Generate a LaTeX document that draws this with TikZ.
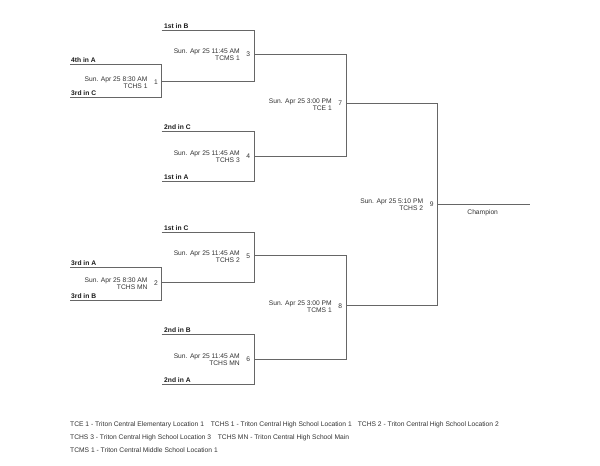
\documentclass[tikz,border=0pt]{standalone}
\usepackage{fontspec}
\setmainfont{Liberation Sans}
\begin{document}
\begin{tikzpicture}[x=1pt,y=-1pt,
  wire/.style={draw=black!60,line width=0.8pt},
  info/.style={anchor=east,align=right,inner sep=0pt,text=black!80,font=\fontsize{6.7}{7}\selectfont},
  num/.style={inner sep=0pt,text=black!80,font=\fontsize{6.7}{7}\selectfont},
  team/.style={anchor=base west,inner sep=0pt,text=black!90,font=\fontsize{6.7}{8}\selectfont\bfseries},
  leg/.style={anchor=west,inner sep=0pt,text=black!80,font=\fontsize{6.7}{8}\selectfont}]
\useasboundingbox (0,0) rectangle (600,466);
% coordinates
\coordinate (m1t) at (70,64.3);  \coordinate (m1tr) at (161.7,64.3);
\coordinate (m1b) at (70,97.7);  \coordinate (m1br) at (161.7,97.7);
\coordinate (m1o) at (161.7,81.7);
\coordinate (m3t) at (161.7,30.7); \coordinate (m3tr) at (254,30.7);
\coordinate (m3br) at (254,81.7);
\coordinate (m3o) at (254,54);
\coordinate (m4t) at (161.7,131); \coordinate (m4tr) at (254,131);
\coordinate (m4b) at (161.7,181.7); \coordinate (m4br) at (254,181.7);
\coordinate (m4o) at (254,156);
\coordinate (m7t) at (346,54); \coordinate (m7b) at (346,156);
\coordinate (m7o) at (346,103.3);
\coordinate (m2t) at (70,267.3);  \coordinate (m2tr) at (161.7,267.3);
\coordinate (m2b) at (70,300);    \coordinate (m2br) at (161.7,300);
\coordinate (m2o) at (161.7,282.7);
\coordinate (m5t) at (161.7,232.3); \coordinate (m5tr) at (254,232.3);
\coordinate (m5br) at (254,282.7);
\coordinate (m5o) at (254,255.7);
\coordinate (m6t) at (161.7,334); \coordinate (m6tr) at (254,334);
\coordinate (m6b) at (161.7,384.3); \coordinate (m6br) at (254,384.3);
\coordinate (m6o) at (254,359);
\coordinate (m8t) at (346,255.7); \coordinate (m8b) at (346,359);
\coordinate (m8o) at (346,305.7);
\coordinate (m9t) at (437.3,103.3); \coordinate (m9b) at (437.3,305.7);
\coordinate (m9o) at (437.3,204.3);
\coordinate (champ) at (530,204.3);
% lines
\draw[wire] (m1t) -- (m1tr) -- (m1br) -- (m1b);
\draw[wire] (m1o) -- (m3br);
\draw[wire] (m3t) -- (m3tr) -- (m3br);
\draw[wire] (m4t) -- (m4tr) -- (m4br) -- (m4b);
\draw[wire] (m3o) -- (m7t) -- (m7b) -- (m4o);
\draw[wire] (m2t) -- (m2tr) -- (m2br) -- (m2b);
\draw[wire] (m2o) -- (m5br);
\draw[wire] (m5t) -- (m5tr) -- (m5br);
\draw[wire] (m6t) -- (m6tr) -- (m6br) -- (m6b);
\draw[wire] (m5o) -- (m8t) -- (m8b) -- (m6o);
\draw[wire] (m7o) -- (m9t) -- (m9b) -- (m8o);
\draw[wire] (m9o) -- (champ);
% match info
\node[info] (i1) at (147.7,82.5) {Sun. Apr 25 8:30 AM\\TCHS 1};
\node[num] (n1) at (156,81.7) {1};
\node[info] (i2) at (147.7,283.5) {Sun. Apr 25 8:30 AM\\TCHS MN};
\node[num] (n2) at (156,282.7) {2};
\node[info] (i3) at (240,55) {Sun. Apr 25 11:45 AM\\TCMS 1};
\node[num] (n3) at (248.3,54.5) {3};
\node[info] (i4) at (240,157) {Sun. Apr 25 11:45 AM\\TCHS 3};
\node[num] (n4) at (248.3,156.5) {4};
\node[info] (i5) at (240,256.7) {Sun. Apr 25 11:45 AM\\TCHS 2};
\node[num] (n5) at (248.3,256.2) {5};
\node[info] (i6) at (240,360) {Sun. Apr 25 11:45 AM\\TCHS MN};
\node[num] (n6) at (248.3,359.5) {6};
\node[info] (i7) at (332,104.5) {Sun. Apr 25 3:00 PM\\TCE 1};
\node[num] (n7) at (340.3,103) {7};
\node[info] (i8) at (332,306.7) {Sun. Apr 25 3:00 PM\\TCMS 1};
\node[num] (n8) at (340.3,306.5) {8};
\node[info] (i9) at (423.3,205) {Sun. Apr 25 5:10 PM\\TCHS 2};
\node[num] (n9) at (431.7,204.3) {9};
\node[num] (ch) at (482.7,212.3) {Champion};
% teams
\node[team] (t1) at (71,62.5) {4th in A};
\node[team] (t2) at (71,95.9) {3rd in C};
\node[team] (t3) at (164,28.9) {1st in B};
\node[team] (t4) at (164,129.2) {2nd in C};
\node[team] (t5) at (164,179.9) {1st in A};
\node[team] (t6) at (164,230.5) {1st in C};
\node[team] (t7) at (71,265.5) {3rd in A};
\node[team] (t8) at (71,298.2) {3rd in B};
\node[team] (t9) at (164,332.2) {2nd in B};
\node[team] (t10) at (164,382.5) {2nd in A};
% legend
\node[leg] (l1) at (70,425) {TCE 1 - Triton Central Elementary Location 1};
\node[leg] (l2) at (210.7,425) {TCHS 1 - Triton Central High School Location 1};
\node[leg] (l3) at (357.7,425) {TCHS 2 - Triton Central High School Location 2};
\node[leg] (l4) at (70,437.3) {TCHS 3 - Triton Central High School Location 3};
\node[leg] (l5) at (217.7,437.3) {TCHS MN - Triton Central High School Main};
\node[leg] (l6) at (70,450) {TCMS 1 - Triton Central Middle School Location 1};
\end{tikzpicture}
\end{document}
